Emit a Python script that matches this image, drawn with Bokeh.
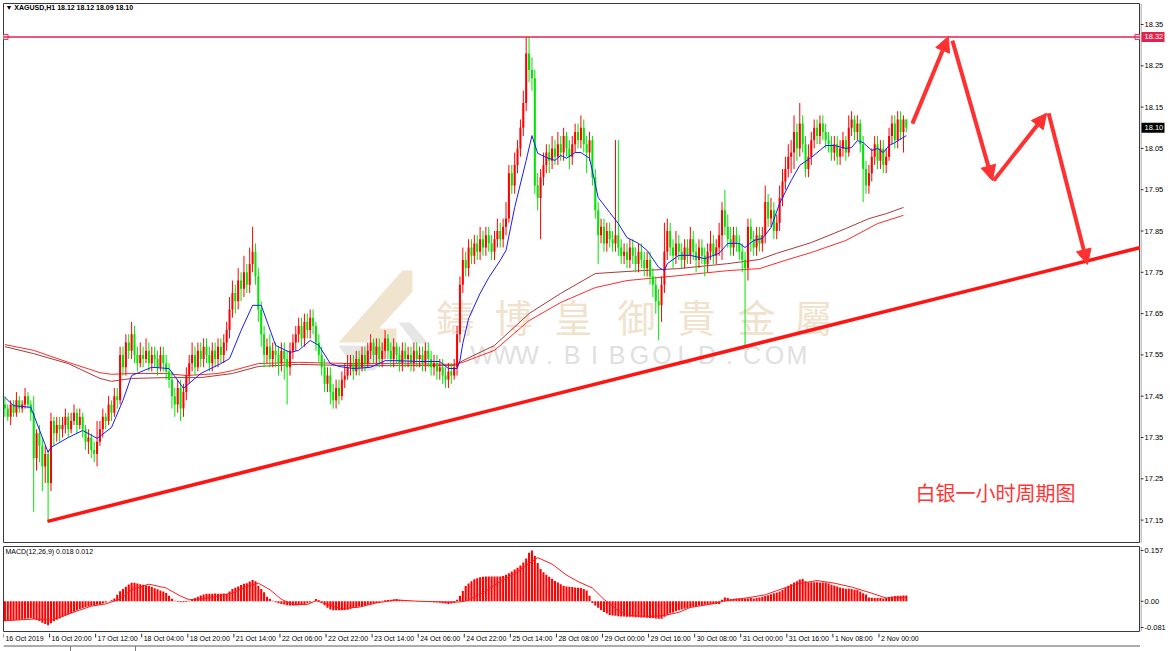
from bokeh.plotting import figure
from bokeh.layouts import column, row
from bokeh.models import Range1d, Span, Label, Arrow, NormalHead, ColumnDataSource
from bokeh.embed import file_html
from bokeh.resources import INLINE
from bokeh.core.properties import value

# ---------------- data (XAGUSD H1) ----------------
opens = [
17.43,17.42,17.40,17.43,17.41,17.44,17.42,17.43,17.45,17.43,
17.41,17.30,17.36,17.33,17.28,17.31,17.24,17.39,17.36,17.38,
17.37,17.38,17.40,17.37,17.39,17.41,17.38,17.40,17.37,17.34,
17.35,17.32,17.31,17.34,17.37,17.40,17.39,17.43,17.41,17.45,
17.44,17.55,17.52,17.58,17.56,17.60,17.55,17.53,17.55,17.54,
17.56,17.53,17.55,17.54,17.52,17.55,17.53,17.51,17.49,17.45,
17.43,17.47,17.42,17.46,17.50,17.53,17.55,17.52,17.56,17.54,
17.57,17.55,17.53,17.56,17.54,17.57,17.55,17.58,17.61,17.66,
17.70,17.68,17.73,17.71,17.75,17.72,17.77,17.80,17.74,17.66,
17.60,17.55,17.57,17.54,17.56,17.55,17.53,17.56,17.54,17.52,
17.56,17.58,17.60,17.62,17.59,17.63,17.61,17.64,17.62,17.58,
17.55,17.52,17.48,17.50,17.46,17.44,17.47,17.45,17.49,17.50,
17.52,17.53,17.51,17.54,17.52,17.55,17.53,17.56,17.58,17.55,
17.57,17.54,17.56,17.59,17.56,17.54,17.57,17.55,17.53,17.56,
17.54,17.55,17.53,17.56,17.54,17.55,17.53,17.56,17.54,17.52,
17.53,17.51,17.52,17.50,17.49,17.51,17.50,17.52,17.60,17.72,
17.78,17.76,17.81,17.79,17.82,17.80,17.83,17.81,17.84,17.82,
17.80,17.83,17.85,17.83,17.86,17.88,17.99,17.96,18.01,18.05,
18.10,18.16,18.28,18.24,18.22,17.96,17.93,17.98,18.01,18.04,
18.02,18.05,18.03,18.06,18.04,18.08,18.05,18.03,18.06,18.09,
18.07,18.10,18.06,18.04,18.07,17.98,17.90,17.84,17.86,17.82,
17.85,17.83,17.82,17.84,17.81,17.79,17.80,17.78,17.81,17.79,
17.77,17.80,17.78,17.76,17.78,17.74,17.72,17.68,17.67,17.72,
17.80,17.85,17.81,17.79,17.82,17.80,17.78,17.81,17.79,17.83,
17.80,17.78,17.81,17.79,17.77,17.80,17.82,17.79,17.81,17.84,
17.90,17.86,17.83,17.81,17.84,17.82,17.80,17.78,17.76,17.86,
17.83,17.81,17.84,17.82,17.84,17.92,17.88,17.90,17.85,17.87,
17.93,17.97,18.00,18.03,18.04,18.09,18.05,18.11,18.06,18.00,
18.03,18.07,18.10,18.08,18.11,18.09,18.07,18.06,18.04,18.06,
18.03,18.05,18.07,18.04,18.10,18.12,18.09,18.11,18.06,18.00,
17.96,17.99,18.03,18.06,18.02,18.05,18.01,18.03,18.08,18.11,
18.07,18.12,18.09,18.12]

highs = [
17.45,17.43,17.44,17.44,17.46,17.45,17.44,17.47,17.46,17.44,
17.45,17.37,17.38,17.35,17.33,17.32,17.41,17.40,17.40,17.40,
17.40,17.42,17.41,17.41,17.43,17.42,17.42,17.41,17.38,17.37,
17.36,17.34,17.39,17.39,17.42,17.41,17.45,17.44,17.47,17.47,
17.57,17.57,17.60,17.60,17.63,17.62,17.57,17.58,17.57,17.59,
17.58,17.57,17.57,17.56,17.57,17.57,17.55,17.53,17.51,17.47,
17.49,17.49,17.48,17.52,17.55,17.58,17.57,17.58,17.58,17.59,
17.59,17.57,17.58,17.58,17.59,17.59,17.60,17.63,17.69,17.73,
17.72,17.76,17.75,17.79,17.77,17.81,17.86,17.82,17.76,17.68,
17.62,17.59,17.60,17.58,17.58,17.57,17.58,17.58,17.56,17.58,
17.60,17.62,17.64,17.64,17.65,17.65,17.66,17.66,17.63,17.60,
17.57,17.54,17.52,17.52,17.48,17.49,17.49,17.51,17.53,17.55,
17.55,17.55,17.56,17.56,17.57,17.57,17.58,17.60,17.59,17.59,
17.59,17.58,17.61,17.60,17.58,17.59,17.58,17.57,17.58,17.58,
17.57,17.57,17.58,17.58,17.57,17.57,17.58,17.58,17.56,17.55,
17.55,17.54,17.54,17.52,17.53,17.53,17.54,17.62,17.74,17.81,
17.80,17.83,17.83,17.84,17.84,17.86,17.85,17.86,17.86,17.84,
17.85,17.88,17.87,17.88,17.92,18.01,18.01,18.04,18.07,18.12,
18.19,18.32,18.32,18.27,18.24,17.99,18.00,18.04,18.06,18.06,
18.08,18.07,18.09,18.08,18.10,18.09,18.07,18.08,18.11,18.11,
18.13,18.12,18.08,18.09,18.08,18.00,17.92,17.88,17.88,17.87,
17.87,17.85,18.07,18.07,17.83,17.82,17.82,17.83,17.83,17.81,
17.82,17.82,17.80,17.80,17.80,17.76,17.74,17.71,17.74,17.87,
17.88,17.87,17.83,17.85,17.84,17.82,17.83,17.83,17.86,17.85,
17.82,17.83,17.83,17.81,17.82,17.85,17.84,17.83,17.87,17.92,
17.95,17.89,17.86,17.86,17.86,17.84,17.82,17.80,17.88,17.88,
17.85,17.86,17.86,17.86,17.96,17.94,17.93,17.92,17.89,17.96,
18.00,18.03,18.06,18.07,18.13,18.11,18.16,18.13,18.08,18.06,
18.09,18.12,18.12,18.13,18.13,18.11,18.09,18.08,18.08,18.08,
18.07,18.09,18.08,18.13,18.14,18.13,18.13,18.12,18.08,18.02,
18.01,18.05,18.08,18.08,18.07,18.07,18.05,18.10,18.13,18.13,
18.14,18.14,18.13,18.12]

lows = [
17.40,17.39,17.38,17.40,17.40,17.41,17.41,17.42,17.42,17.39,
17.17,17.27,17.29,17.22,17.24,17.145,17.22,17.33,17.34,17.34,
17.35,17.36,17.35,17.36,17.38,17.36,17.37,17.35,17.32,17.31,
17.30,17.29,17.28,17.33,17.35,17.37,17.38,17.39,17.40,17.42,
17.43,17.50,17.50,17.54,17.54,17.53,17.51,17.52,17.52,17.53,
17.51,17.51,17.52,17.50,17.51,17.51,17.49,17.47,17.42,17.40,
17.41,17.39,17.40,17.44,17.48,17.51,17.50,17.51,17.52,17.52,
17.53,17.51,17.51,17.52,17.52,17.53,17.53,17.56,17.59,17.64,
17.65,17.66,17.68,17.69,17.70,17.70,17.75,17.72,17.63,17.57,
17.52,17.53,17.52,17.52,17.52,17.50,17.51,17.49,17.43,17.50,
17.54,17.56,17.58,17.57,17.57,17.59,17.59,17.60,17.56,17.53,
17.50,17.46,17.46,17.43,17.42,17.42,17.43,17.44,17.47,17.49,
17.50,17.49,17.50,17.50,17.51,17.51,17.52,17.54,17.53,17.53,
17.52,17.52,17.54,17.54,17.52,17.52,17.53,17.51,17.51,17.52,
17.52,17.51,17.51,17.52,17.52,17.51,17.51,17.52,17.50,17.50,
17.49,17.49,17.48,17.47,17.47,17.48,17.49,17.50,17.58,17.70,
17.74,17.74,17.77,17.77,17.78,17.78,17.79,17.79,17.80,17.78,
17.78,17.81,17.81,17.81,17.84,17.87,17.94,17.94,17.99,18.03,
18.08,18.14,18.21,18.19,17.94,17.90,17.83,17.96,17.99,17.99,
18.00,18.01,18.01,18.02,18.02,18.03,18.00,18.01,18.04,18.05,
18.05,18.04,17.99,18.02,17.96,17.88,17.77,17.82,17.80,17.80,
17.81,17.80,17.80,17.79,17.77,17.77,17.76,17.76,17.77,17.75,
17.75,17.76,17.74,17.74,17.72,17.69,17.65,17.585,17.63,17.70,
17.78,17.79,17.76,17.77,17.78,17.76,17.76,17.77,17.77,17.78,
17.75,17.76,17.77,17.74,17.75,17.78,17.77,17.77,17.79,17.78,
17.84,17.81,17.79,17.79,17.80,17.78,17.75,17.57,17.73,17.80,
17.79,17.79,17.80,17.80,17.82,17.86,17.86,17.83,17.83,17.85,
17.91,17.95,17.98,17.99,18.00,18.02,18.03,18.04,17.98,17.98,
18.01,18.05,18.06,18.06,18.07,18.05,18.04,18.02,18.02,18.01,
18.01,18.03,18.02,18.03,18.08,18.07,18.07,18.04,17.92,17.94,
17.94,17.97,18.01,18.00,18.00,17.99,17.99,18.02,18.06,18.05,
18.05,18.07,18.04,18.09]

closes = [
17.42,17.40,17.43,17.41,17.44,17.42,17.43,17.45,17.43,17.41,
17.30,17.36,17.33,17.28,17.31,17.24,17.39,17.36,17.38,17.37,
17.38,17.40,17.37,17.39,17.41,17.38,17.40,17.37,17.34,17.35,
17.32,17.31,17.34,17.37,17.40,17.39,17.43,17.41,17.45,17.44,
17.55,17.52,17.58,17.56,17.60,17.55,17.53,17.55,17.54,17.56,
17.53,17.55,17.54,17.52,17.55,17.53,17.51,17.49,17.45,17.43,
17.47,17.42,17.46,17.50,17.53,17.55,17.52,17.56,17.54,17.57,
17.55,17.53,17.56,17.54,17.57,17.55,17.58,17.61,17.66,17.70,
17.68,17.73,17.71,17.75,17.72,17.77,17.80,17.74,17.66,17.60,
17.55,17.57,17.54,17.56,17.55,17.53,17.56,17.54,17.52,17.56,
17.58,17.60,17.62,17.59,17.63,17.61,17.64,17.62,17.58,17.55,
17.52,17.48,17.50,17.46,17.44,17.47,17.45,17.49,17.50,17.52,
17.53,17.51,17.54,17.52,17.55,17.53,17.56,17.58,17.55,17.57,
17.54,17.56,17.59,17.56,17.54,17.57,17.55,17.53,17.56,17.54,
17.55,17.53,17.56,17.54,17.55,17.53,17.56,17.54,17.52,17.53,
17.51,17.52,17.50,17.49,17.51,17.50,17.52,17.60,17.72,17.78,
17.76,17.81,17.79,17.82,17.80,17.83,17.81,17.84,17.82,17.80,
17.83,17.85,17.83,17.86,17.88,17.99,17.96,18.01,18.05,18.10,
18.16,18.28,18.24,18.22,17.96,17.93,17.98,18.01,18.04,18.02,
18.05,18.03,18.06,18.04,18.08,18.05,18.03,18.06,18.09,18.07,
18.10,18.06,18.04,18.07,17.98,17.90,17.84,17.86,17.82,17.85,
17.83,17.82,17.84,17.81,17.79,17.80,17.78,17.81,17.79,17.77,
17.80,17.78,17.76,17.78,17.74,17.72,17.68,17.67,17.72,17.80,
17.85,17.81,17.79,17.82,17.80,17.78,17.81,17.79,17.83,17.80,
17.78,17.81,17.79,17.77,17.80,17.82,17.79,17.81,17.84,17.90,
17.86,17.83,17.81,17.84,17.82,17.80,17.78,17.76,17.86,17.83,
17.81,17.84,17.82,17.84,17.92,17.88,17.90,17.85,17.87,17.93,
17.97,18.00,18.03,18.04,18.09,18.05,18.11,18.06,18.00,18.03,
18.07,18.10,18.08,18.11,18.09,18.07,18.06,18.04,18.06,18.03,
18.05,18.07,18.04,18.10,18.12,18.09,18.11,18.06,18.00,17.96,
17.99,18.03,18.06,18.02,18.05,18.01,18.03,18.08,18.11,18.07,
18.12,18.09,18.12,18.10]

# fast moving average (blue): bar index / price
blue_bars = [0,3,9,15,16,22,27,32,37,41,44,51,57,62,68,75,78,82,86,89,
             94,99,102,106,109,113,116,121,127,132,136,144,151,154,157,158,159,161,165,168,
             172,174,177,181,183,185,188,191,193,195,198,200,203,206,210,213,216,220,223,227,
             229,230,234,238,243,248,251,255,257,260,263,266,269,273,276,280,285,288,292,294,
             296,298,301,303,305,307,309,313]
blue_vals = [17.447,17.427,17.423,17.314,17.326,17.350,17.367,17.348,17.374,17.440,
             17.500,17.520,17.517,17.469,17.505,17.529,17.541,17.609,17.670,17.670,
             17.573,17.556,17.561,17.585,17.573,17.529,17.522,17.517,17.520,17.536,
             17.536,17.534,17.534,17.517,17.517,17.536,17.578,17.638,17.699,17.737,
             17.779,17.803,17.907,18.021,18.081,18.038,18.028,18.021,18.033,18.026,
             18.040,18.040,18.026,17.931,17.895,17.868,17.834,17.820,17.803,17.762,
             17.754,17.771,17.791,17.791,17.783,17.796,17.820,17.820,17.810,17.827,
             17.832,17.858,17.917,17.972,18.009,18.028,18.057,18.057,18.050,18.052,
             18.069,18.064,18.045,18.050,18.040,18.057,18.064,18.081]

# slow moving averages (brown and red)
brown_bars = [0,10,22,33,37,44,56,68,79,88,102,120,137,156,159,170,182,193,205,216,
              234,251,262,268,280,292,300,306,312]
brown_vals = [17.570,17.553,17.529,17.493,17.486,17.493,17.495,17.495,17.505,17.522,
              17.527,17.524,17.524,17.524,17.536,17.573,17.650,17.699,17.747,17.752,
              17.759,17.771,17.781,17.796,17.822,17.856,17.880,17.892,17.907]
red_bars = [0,10,22,33,37,44,56,63,74,79,88,102,120,137,156,159,170,182,193,205,
            216,234,251,262,271,280,292,303,312]
red_vals = [17.575,17.561,17.532,17.507,17.503,17.505,17.505,17.500,17.505,17.512,
            17.529,17.532,17.529,17.529,17.527,17.532,17.561,17.633,17.677,17.713,
            17.730,17.742,17.754,17.759,17.779,17.798,17.827,17.868,17.888]

# MACD(12,26,9) histogram, thousandths
macd_milli = [
-62,-61,-60,-59,-58,-57,-56,-54,-53,-52,
-55,-58,-61,-66,-70,-74,-68,-62,-57,-53,
-48,-44,-40,-36,-32,-28,-24,-21,-18,-16,
-14,-12,-11,-10,-7,-4,-1,3,9,20,
31,38,45,52,57,57,55,53,51,49,
47,44,40,37,33,30,26,17,8,2,
-2,-3,-3,-2,2,6,10,14,18,21,
23,23,23,24,23,23,24,23,30,38,
42,46,50,54,56,61,66,62,48,38,
28,14,8,2,-3,-6,-8,-10,-12,-13,
-13,-13,-12,-10,-8,-6,-4,0,7,3,
-3,-12,-20,-25,-28,-28,-28,-28,-27,-26,
-23,-21,-18,-16,-15,-13,-11,-9,-7,-5,
-2,2,3,4,5,6,7,5,4,3,
2,1,0,-1,-1,0,-1,-2,-2,-3,
-3,-4,-6,-7,-8,-7,-5,5,17,32,
47,55,62,68,71,74,76,77,77,77,
77,77,77,78,82,87,92,98,104,111,
120,132,150,157,140,118,100,90,82,76,
70,63,58,53,48,46,45,44,43,42,
41,38,33,17,-5,-13,-20,-27,-33,-38,
-42,-44,-45,-46,-47,-47,-48,-48,-48,-49,
-49,-50,-50,-51,-52,-52,-53,-54,-54,-48,
-42,-38,-35,-31,-28,-25,-23,-21,-19,-17,
-15,-13,-12,-11,-10,-9,-9,-8,-8,5,
12,10,7,8,9,9,8,9,9,10,
9,10,12,14,16,19,22,25,27,30,
35,41,48,53,58,62,67,69,62,59,
59,59,59,58,58,58,55,51,49,46,
43,40,39,39,38,36,35,30,25,21,
12,11,10,10,10,9,11,13,15,16,
17,17,18,18]
sig_bars = [0,10,16,19,25,30,35,40,44,50,56,61,64,68,74,79,84,88,92,96,
            100,105,108,113,117,123,129,136,144,154,158,160,166,171,177,183,185,190,195,199,
            204,208,213,217,224,229,234,238,245,250,258,264,268,275,282,288,294,301,306,313]
sig_milli = [-60,-55,-57,-50,-30,-15,-8,7,36,53,41,16,5,7,16,26,46,56,36,6,
             -10,-10,2,-13,-23,-18,-5,4,0,-3,-2,1,26,56,86,123,135,115,81,61,
             41,6,-29,-44,-47,-44,-34,-19,-9,1,11,20,33,54,64,56,44,25,10,12]

price_ticks = [17.15,17.25,17.35,17.45,17.55,17.65,17.75,17.85,17.95,18.05,18.15,18.25,18.35]
price_tick_labels = ["17.15","17.25","17.35","17.45","17.55","17.65","17.75","17.85",
                     "17.95","18.05","18.15","18.25","18.35"]
macd_ticks = [0.157, 0.0, -0.081]
macd_tick_labels = ["0.157", "0.00", "-0.081"]
time_label_bars = [0,16,32,48,64,80,96,112,128,144,160,176,192,208,224,240,256,272,288,304]
time_labels = ["16 Oct 2019","16 Oct 20:00","17 Oct 12:00","18 Oct 04:00","18 Oct 20:00",
               "21 Oct 14:00","22 Oct 06:00","22 Oct 22:00","23 Oct 14:00","24 Oct 06:00",
               "24 Oct 22:00","25 Oct 14:00","28 Oct 08:00","29 Oct 00:00","29 Oct 16:00",
               "30 Oct 08:00","31 Oct 00:00","31 Oct 16:00","1 Nov 08:00","2 Nov 00:00"]
resistance = 18.32
last_price = 18.10
trend_bars = [14.8, 394.3]
trend_prices = [17.147, 17.810]
# hand-drawn projection arrows (bar, price) start -> end
arrow_paths = [((315.1, 18.110), (327.6, 18.321)),
               ((329.0, 18.311), (342.9, 17.972)),
               ((343.3, 17.972), (361.7, 18.135)),
               ((362.4, 18.135), (375.9, 17.769))]

# ---------------- helpers: reference-pixel -> data (for decorations) ----------------
def bx(px):
    return (px - 4.4) / 2.88

def py(pyv):
    return 18.35 - (pyv - 24) / 413.0

MACD_TOP, MACD_BOT = 0.1694, -0.0934
def my(pyv):
    return MACD_TOP - (pyv - 546) * (MACD_TOP - MACD_BOT) / 85.0

FONT = "Liberation Sans"
FW = 1137
BULL = "#ff0000"
BEAR = "#00e600"
CRIMSON = "#e3224c"
AXIS_GREY = "#8c8c8c"

n = len(closes)
idx = list(range(n))
cols = [BULL if c >= o else BEAR for o, c in zip(opens, closes)]
src = ColumnDataSource(dict(
    x=idx, o=opens, h=highs, l=lows, c=closes,
    top=[max(o, c) for o, c in zip(opens, closes)],
    bot=[min(o, c) for o, c in zip(opens, closes)],
    col=cols))

xr = Range1d(bx(3), bx(1140))
yr_main = Range1d(py(543), py(3))
yr_macd = Range1d(MACD_BOT, MACD_TOP)

def base_fig(**kw):
    f = figure(toolbar_location=None, output_backend="svg",
               x_axis_location=None, y_axis_location=None,
               background_fill_color="white", border_fill_color="white", **kw)
    f.grid.visible = False
    return f

# ---------------- main price panel ----------------
p = base_fig(frame_width=FW, frame_height=540, x_range=xr, y_range=yr_main,
             min_border_left=3, min_border_right=0, min_border_top=3, min_border_bottom=0,
             outline_line_color="#3a3a3a")

# watermark logo
logo_beige = [[(338, 342), (402, 270), (412, 270), (412, 291), (366, 342)],
              [(372, 328), (396, 328), (396, 350), (372, 350)]]
logo_grey = [[(338, 345), (368, 345), (382, 360), (374, 370), (355, 370)],
             [(398, 322), (410, 322), (428, 343), (414, 343)]]
p.patches([[bx(a) for a, b in poly] for poly in logo_beige],
          [[py(b) for a, b in poly] for poly in logo_beige],
          fill_color="#f1e4cf", line_color=None)
p.patches([[bx(a) for a, b in poly] for poly in logo_grey],
          [[py(b) for a, b in poly] for poly in logo_grey],
          fill_color="#e6e6e6", line_color=None)
wm_chars = list("鑄博皇御貴金屬")
wm_px = [455, 513, 573, 636, 696, 756, 813]
p.text(x=[bx(v) for v in wm_px], y=[py(315)] * len(wm_px), text=wm_chars,
       text_font=value("Noto Sans CJK TC"), text_font_size="38px",
       text_color="#f0e2cc", text_align="center", text_baseline="middle")
url_chars = list("WWW.BIBGOLD.COM")
p.text(x=[bx(481.5 + 22.5 * k) for k in range(len(url_chars))], y=[py(354)] * len(url_chars),
       text=url_chars, text_font=value(FONT), text_font_size="25px",
       text_color="#e0e0e0", text_align="center", text_baseline="middle")

# moving averages
p.line(red_bars, red_vals, line_color="#ff2a2a", line_width=1)
p.line(brown_bars, brown_vals, line_color="#a83a3a", line_width=1)

# candles
p.segment(x0="x", y0="l", x1="x", y1="h", line_color="col", line_width=1, source=src)
p.vbar(x="x", width=0.7, top="top", bottom="bot", fill_color="col", line_color=None, source=src)

p.line(blue_bars, blue_vals, line_color="#1a1aff", line_width=1)

# trend line and resistance
p.line(trend_bars, trend_prices, line_color="#ff1414", line_width=3.5)
p.add_layout(Span(location=resistance, dimension="width", line_color=CRIMSON, line_width=1.5))
p.scatter([bx(5), bx(1137)], [resistance, resistance], marker="square", size=5,
          fill_color="white", line_color=CRIMSON)

for (x0, y0), (x1, y1) in arrow_paths:
    p.add_layout(Arrow(end=NormalHead(size=15, fill_color="#ff3030", line_color="#ff3030"),
                       x_start=x0, y_start=y0, x_end=x1, y_end=y1,
                       line_color="#ff3030", line_width=4))

p.add_layout(Label(x=bx(915), y=py(492), text="白银一小时周期图",
                   text_font="Noto Sans CJK SC", text_font_size="20px",
                   text_color="#ff3535", text_baseline="middle", text_align="left"))
p.add_layout(Label(x=bx(5), y=py(7), text="▼ XAGUSD,H1  18.12 18.12 18.09 18.10",
                   text_font=FONT, text_font_size="7px", text_font_style="bold",
                   text_color="#000000", text_baseline="middle", text_align="left"))

# ---------------- price scale (own strip, pixel x units) ----------------
pr = base_fig(frame_width=30, frame_height=540, x_range=Range1d(0, 30), y_range=yr_main,
              min_border_left=0, min_border_right=0, min_border_top=3, min_border_bottom=0,
              outline_line_color=None)
pr.segment(x0=[0.5], y0=[yr_main.start], x1=[0.5], y1=[yr_main.end], line_color=AXIS_GREY)
pr.segment(x0=[0] * len(price_ticks), y0=price_ticks, x1=[3] * len(price_ticks), y1=price_ticks,
           line_color="#333333")
pr.text(x=[4] * len(price_ticks), y=price_ticks, text=price_tick_labels,
        text_font=value(FONT), text_font_size="7.5px", text_color="#000000",
        text_align="left", text_baseline="middle")
pr.rect(x=[12.5, 12.5], y=[resistance, last_price], width=23, height=10, height_units="screen",
        fill_color=[CRIMSON, "#000000"], line_color=None)
pr.text(x=[4, 4], y=[resistance, last_price], text=["18.32", "18.10"],
        text_font=value(FONT), text_font_size="7.5px", text_color="white",
        text_align="left", text_baseline="middle")

# ---------------- MACD panel ----------------
p2 = base_fig(frame_width=FW, frame_height=85, x_range=xr, y_range=yr_macd,
              min_border_left=3, min_border_right=0, min_border_top=3, min_border_bottom=2,
              outline_line_color="#3a3a3a")
p2.vbar(x=idx, top=[v / 1000 for v in macd_milli], bottom=0, width=0.72,
        fill_color="#ff0000", line_color=None)
p2.line(sig_bars, [v / 1000 for v in sig_milli], line_color="#ff1a1a", line_width=1)
p2.add_layout(Label(x=bx(5), y=my(551), text="MACD(12,26,9) 0.018 0.012",
                    text_font=FONT, text_font_size="7px", text_color="#000000",
                    text_baseline="middle", text_align="left"))

p2r = base_fig(frame_width=30, frame_height=85, x_range=Range1d(0, 30), y_range=yr_macd,
               min_border_left=0, min_border_right=0, min_border_top=3, min_border_bottom=2,
               outline_line_color=None)
p2r.segment(x0=[0.5], y0=[MACD_BOT], x1=[0.5], y1=[MACD_TOP], line_color=AXIS_GREY)
p2r.segment(x0=[0] * 3, y0=macd_ticks, x1=[3] * 3, y1=macd_ticks, line_color="#333333")
p2r.text(x=[4] * 3, y=macd_ticks, text=macd_tick_labels,
         text_font=value(FONT), text_font_size="7.5px", text_color="#000000",
         text_align="left", text_baseline="middle")

# ---------------- time axis strip (y in pixels from top) ----------------
p3 = base_fig(frame_width=FW, frame_height=18, x_range=xr, y_range=Range1d(18, 0),
              min_border_left=3, min_border_right=0, min_border_top=0, min_border_bottom=0,
              outline_line_color=None)
tick_x = [b - 0.5 for b in time_label_bars]
p3.segment(x0=tick_x, y0=[0] * len(tick_x), x1=tick_x, y1=[4] * len(tick_x),
           line_color="#333333", line_width=1)
p3.text(x=tick_x, y=[4.8] * len(tick_x), text=time_labels, x_offset=2,
        text_font=value(FONT), text_font_size="7px", text_color="#000000",
        text_align="left", text_baseline="middle")
p3.segment(x0=[bx(3)], y0=[12.5], x1=[bx(1140)], y1=[12.5], line_color="#5a5a5a")
p3.segment(x0=[bx(70), bx(135)], y0=[12.5, 12.5], x1=[bx(70), bx(135)], y1=[18, 18],
           line_color="#7a7a7a")

layout = column(row(p, pr, spacing=0), row(p2, p2r, spacing=0), p3, spacing=0)
open("out.html", "w").write(file_html(layout, INLINE))
